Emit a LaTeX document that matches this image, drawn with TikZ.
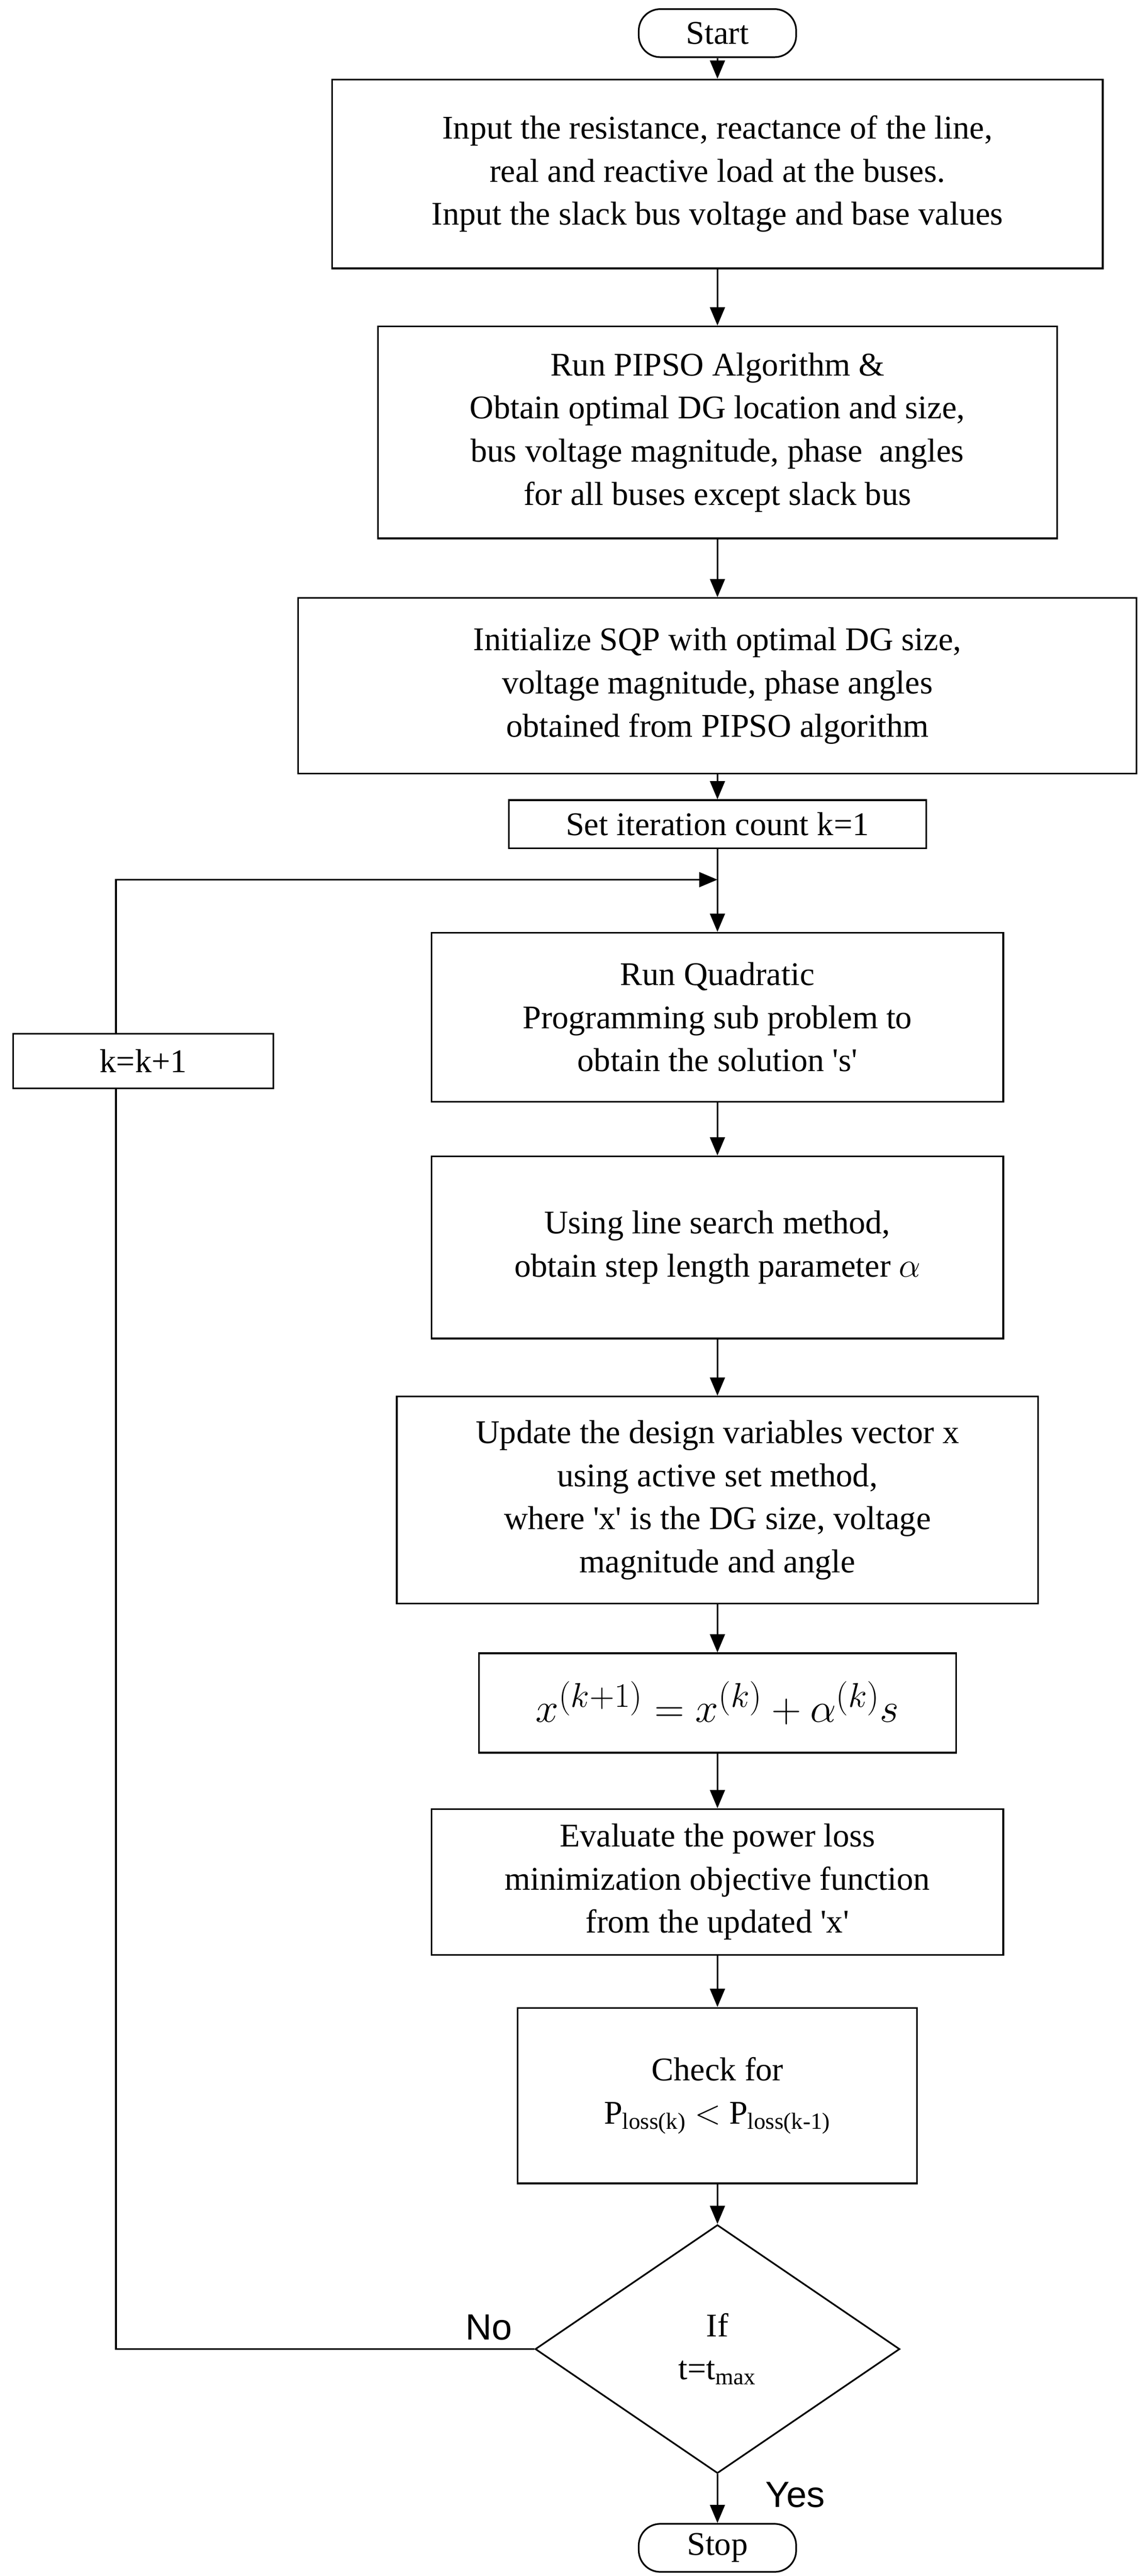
\documentclass[tikz,border=0pt]{standalone}
\usepackage{fontspec}
\setmainfont{Liberation Serif}
\newfontfamily\sansf{Liberation Sans}
\usetikzlibrary{shapes.geometric,arrows.meta}
\newcommand{\sq}{\textquotesingle}
\begin{document}
\begin{tikzpicture}[x=1pt,y=-1pt,
  box/.style={draw,line width=1pt,align=center,inner sep=2pt,font=\fontsize{20}{26}\selectfont},
  term/.style={draw,line width=1pt,rounded corners=13pt,minimum width=95pt,minimum height=29pt,font=\fontsize{20}{24}\selectfont},
  arr/.style={line width=1pt,-{Triangle[length=11pt,width=9pt]}},
  ln/.style={line width=1pt}]
\useasboundingbox (0,0) rectangle (691,1555);
\node[term] (start) at (433,20) {Start};
\node[box,minimum width=465pt,minimum height=114pt] (b1) at (433,105) {Input the resistance, reactance of the line,\\ real and reactive load at the buses.\\ Input the slack bus voltage and base values};
\node[box,minimum width=410pt,minimum height=128pt] (b2) at (433,261) {Run PIPSO Algorithm \&\\ Obtain optimal DG location and size,\\ bus voltage magnitude, phase\ \ angles\\ for all buses except slack bus};
\node[box,minimum width=506pt,minimum height=106pt] (b3) at (433,414) {Initialize SQP with optimal DG size,\\ voltage magnitude, phase angles\\ obtained from PIPSO algorithm};
\node[box,minimum width=252pt,minimum height=29pt] (b4) at (433,497.5) {Set iteration count k=1};
\node[box,minimum width=345pt,minimum height=102pt] (b5) at (433,614) {Run Quadratic\\ Programming sub problem to\\ obtain the solution \sq s\sq};
\node[box,minimum width=345pt,minimum height=110pt] (b6) at (433,753) {Using line search method,\\ obtain step length parameter $\alpha$};
\node[box,minimum width=387pt,minimum height=125pt] (b7) at (433,905.5) {Update the design variables vector x\\ using active set method,\\ where \sq x\sq\ is the DG size, voltage\\ magnitude and angle};
\node[box,minimum width=288pt,minimum height=60pt,font=\fontsize{30}{34}\selectfont] (b8) at (433,1028) {$x^{(k+1)}=x^{(k)}+\alpha^{(k)}s$};
\node[box,minimum width=345pt,minimum height=88pt] (b9) at (433,1136) {Evaluate the power loss\\ minimization objective function\\ from the updated \sq x\sq};
\node[box,minimum width=241pt,minimum height=106pt] (b10) at (433,1265) {Check for\\ P\textsubscript{loss(k)} $<$ P\textsubscript{loss(k-1)}};
\node[draw,line width=1pt,diamond,aspect=1.47,minimum width=220pt,minimum height=150pt,inner sep=0pt,align=center,font=\fontsize{20}{26}\selectfont] (d) at (433,1418) {If\\ t=t\textsubscript{max}};
\node[term] (stop) at (433,1538) {Stop};
\node[box,minimum width=157pt,minimum height=33pt] (kk) at (86.5,640.5) {k=k+1};
\coordinate (j) at (433,531);
\foreach \a/\b in {start/b1,b1/b2,b2/b3,b3/b4,b4/b5,b5/b6,b6/b7,b7/b8,b8/b9,b9/b10,b10/d,d/stop}
  \draw[arr] (\a) -- (\b);
\draw[ln] (d.west) -- (70,1418) -- (70,1418 |- kk.south);
\draw[arr] (70,0 |- kk.north) -- (70,531) -- (j);
\node[font=\sansf\fontsize{22}{26}\selectfont] (no) at (295,1405) {No};
\node[font=\sansf\fontsize{22}{26}\selectfont] (yes) at (480,1506) {Yes};
\end{tikzpicture}
\end{document}
